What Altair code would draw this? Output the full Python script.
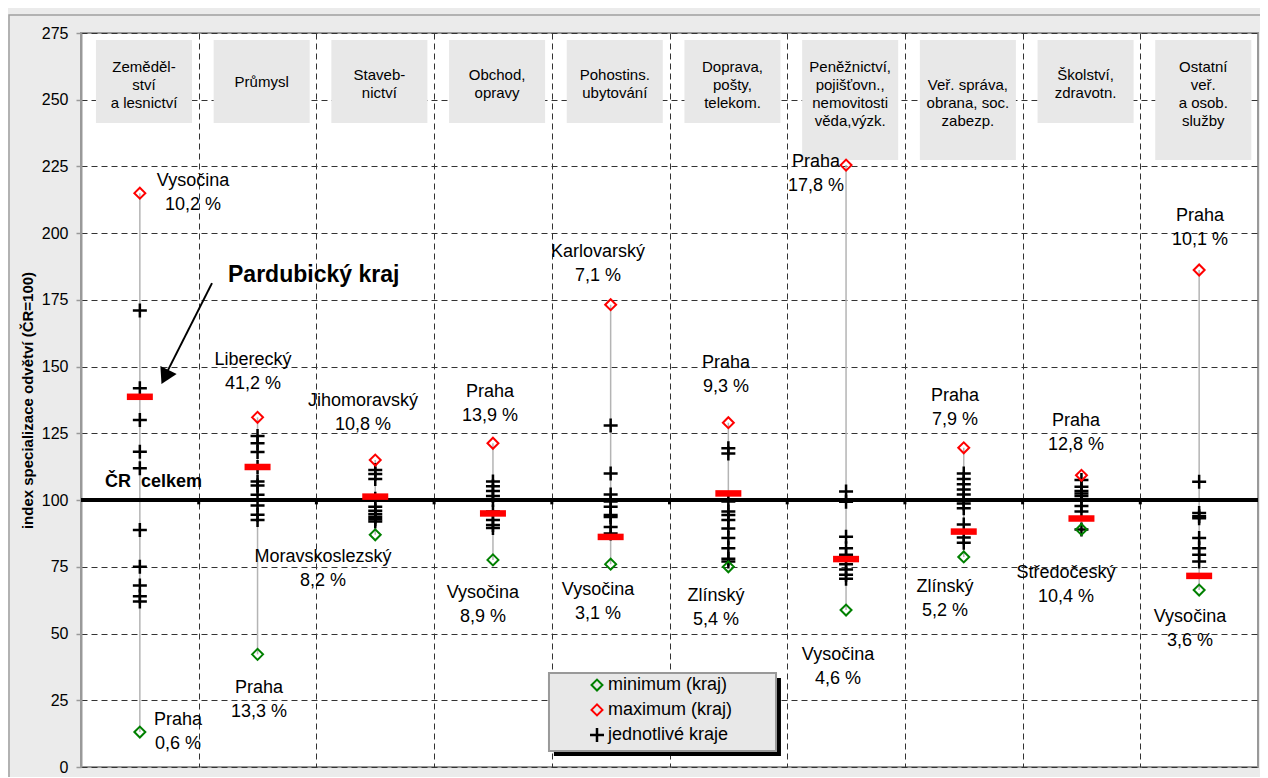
import altair as alt
import pandas as pd

FONT = "Liberation Sans"

# ---------------- data ----------------
header_lines = [
    ["Zeměděl-", "ství", "a lesnictví"],
    ["Průmysl"],
    ["Staveb-", "nictví"],
    ["Obchod,", "opravy"],
    ["Pohostins.", "ubytování"],
    ["Doprava,", "pošty,", "telekom."],
    ["Peněžnictví,", "pojišťovn.,", "nemovitosti", "věda,výzk."],
    ["Veř. správa,", "obrana, soc.", "zabezp."],
    ["Školství,", "zdravotn."],
    ["Ostatní", "veř.", "a osob.", "služby"],
]
max_vals = [215.0, 131.0, 115.0, 121.3, 173.2, 129.0, 225.5, 119.6, 109.3, 186.2]
min_vals = [13.1, 42.2, 87.0, 77.6, 76.0, 75.0, 58.8, 78.7, 89.0, 66.3]
pardubicky = [138.7, 112.4, 101.3, 95.0, 86.2, 102.5, 77.9, 88.2, 93.1, 71.6]
regions = [
    [171.0, 141.9, 130.0, 118.1, 111.9, 88.8, 75.0, 68.0, 64.0, 62.0],
    [124.0, 121.3, 118.0, 112.4, 107.0, 105.5, 102.0, 98.0, 94.5, 92.5],
    [111.3, 109.8, 107.9, 100.5, 97.5, 96.0, 94.8, 93.8, 92.8, 92.0],
    [107.0, 105.2, 103.4, 101.5, 100.0, 95.7, 92.5, 90.7, 89.5],
    [127.9, 110.0, 102.1, 99.5, 97.5, 94.4, 93.7, 89.9, 87.5],
    [119.4, 117.5, 99.5, 95.7, 94.4, 92.5, 89.4, 85.8, 82.0, 78.0, 77.0],
    [103.2, 99.4, 86.3, 82.0, 79.5, 76.0, 74.0, 72.0, 70.5],
    [110.0, 107.9, 105.9, 104.0, 102.1, 100.3, 98.7, 96.9, 90.9, 86.0, 84.0],
    [107.5, 105.0, 103.4, 102.5, 101.5, 100.0, 97.8, 95.7, 89.0],
    [106.9, 95.2, 93.9, 93.2, 85.8, 82.0, 79.5, 77.0],
]
max_region = ["Vysočina", "Liberecký", "Jihomoravský", "Praha", "Karlovarský",
              "Praha", "Praha", "Praha", "Praha", "Praha"]
max_share = ["10,2 %", "41,2 %", "10,8 %", "13,9 %", "7,1 %",
             "9,3 %", "17,8 %", "7,9 %", "12,8 %", "10,1 %"]
min_region = ["Praha", "Praha", "Moravskoslezský", "Vysočina", "Vysočina",
              "Zlínský", "Vysočina", "Zlínský", "Středočeský", "Vysočina"]
min_share = ["0,6 %", "13,3 %", "8,2 %", "8,9 %", "3,1 %",
             "5,4 %", "4,6 %", "5,2 %", "10,4 %", "3,6 %"]
y_ticks = [0, 25, 50, 75, 100, 125, 150, 175, 200, 225, 250, 275]
national_level = 100
legend_labels = ["minimum (kraj)", "maximum (kraj)", "jednotlivé kraje"]

# ---------------- layout (in data units) ----------------
n = len(header_lines)
box_left, box_right, box_top = -0.373, 0.443, 272.4
box_bottom = [241.3, 241.3, 241.3, 241.3, 241.3, 241.3, 227.4, 227.4, 241.3, 227.4]
header_first_y = [262.3, 256.6, 259.3, 259.3, 259.3, 262.3, 262.3, 255.5, 259.3, 262.3]
header_step = 6.74
max_label_x = [0.452, 0.961, 1.896, 2.975, 3.893, 4.980, 5.745, 6.926, 7.954, 9.007]
max_label_y = [219.6, 152.5, 137.1, 140.5, 193.0, 151.4, 226.7, 139.0, 129.6, 206.4]
min_label_x = [0.324, 1.012, 1.556, 2.915, 3.893, 4.895, 5.932, 6.841, 7.869, 8.922]
min_label_y = [17.6, 29.6, 78.7, 65.2, 66.3, 64.1, 42.0, 67.4, 72.7, 56.2]
label_step = 9.0

W, H = 1177, 734

# ---------------- tables ----------------
df_boxes = pd.DataFrame({
    "x": [i + box_left for i in range(n)],
    "x2": [i + box_right for i in range(n)],
    "y": [box_top] * n,
    "y2": box_bottom,
})
hdr_rows = []
for i, lines in enumerate(header_lines):
    for j, t in enumerate(lines):
        hdr_rows.append({"x": i + (box_left + box_right) / 2,
                         "y": header_first_y[i] - j * header_step, "t": t})
df_hdr = pd.DataFrame(hdr_rows)

df_range = pd.DataFrame({"x": list(range(n)), "y": min_vals, "y2": max_vals})
df_cross = pd.DataFrame([{"x": i, "y": v} for i, vals in enumerate(regions) for v in vals])
df_pard = pd.DataFrame({"x": list(range(n)), "y": pardubicky})
df_max = pd.DataFrame({"x": list(range(n)), "y": max_vals})
df_min = pd.DataFrame({"x": list(range(n)), "y": min_vals})

lab_rows = []
for i in range(n):
    lab_rows.append({"x": max_label_x[i], "y": max_label_y[i], "t": max_region[i]})
    lab_rows.append({"x": max_label_x[i], "y": max_label_y[i] - label_step, "t": max_share[i]})
    lab_rows.append({"x": min_label_x[i], "y": min_label_y[i], "t": min_region[i]})
    lab_rows.append({"x": min_label_x[i], "y": min_label_y[i] - label_step, "t": min_share[i]})
df_lab = pd.DataFrame(lab_rows)

x_axis = alt.Axis(values=[i + 0.5 for i in range(n - 1)], labels=False, ticks=False,
                  domain=False, grid=True, gridDash=[6, 4], gridColor="#333333",
                  gridWidth=1, title=None)
y_axis = alt.Axis(values=y_ticks, grid=True, gridDash=[6, 4], gridColor="#333333",
                  gridWidth=1, labelFontSize=16, labelColor="black", labelFont=FONT,
                  tickSize=5, tickColor="#999999", tickWidth=1.5,
                  domainColor="#999999", domainWidth=2, labelPadding=8,
                  title="index specializace odvětví (ČR=100)", titleFont=FONT,
                  titleFontSize=15, titleFontWeight="bold", titleColor="black",
                  titlePadding=6)
XS = alt.Scale(domain=[-0.5, n - 0.5], nice=False, zero=False)
YS = alt.Scale(domain=[y_ticks[0], y_ticks[-1]], nice=False, zero=False)
X = alt.X("x:Q", scale=XS, axis=x_axis)
Y = alt.Y("y:Q", scale=YS, axis=y_axis)

boxes = alt.Chart(df_boxes).mark_rect(fill="#e8e8e8").encode(x=X, x2="x2:Q", y=Y, y2="y2:Q")
hdr = alt.Chart(df_hdr).mark_text(font=FONT, fontSize=15, color="black", align="center",
                                  baseline="middle").encode(x=X, y=Y, text="t:N")
rng = alt.Chart(df_range).mark_rule(color="#b4b4b4", strokeWidth=1.5).encode(x=X, y=Y, y2="y2:Q")
cross = alt.Chart(df_cross).mark_point(shape="M-1,0H1M0,-1V1", filled=False, size=196,
                                       strokeWidth=2.5, color="black", opacity=1).encode(x=X, y=Y)
line100 = alt.Chart(pd.DataFrame({"y": [national_level]})).mark_rule(
    color="black", strokeWidth=4).encode(y=Y)
df_bt = pd.DataFrame({"x": [i + 0.5 for i in range(n - 1)],
                      "y": [national_level] * (n - 1), "y2": [national_level - 1.6] * (n - 1)})
bticks = alt.Chart(df_bt).mark_rule(color="black", strokeWidth=3).encode(x=X, y=Y, y2="y2:Q")
pard = alt.Chart(df_pard).mark_point(shape="M-1,-0.25H1V0.25H-1Z", filled=True, size=676,
                                     color="#ff0000", opacity=1).encode(x=X, y=Y)
dmax = alt.Chart(df_max).mark_point(shape="diamond", filled=False, size=120, strokeWidth=2,
                                    color="#ff0000", opacity=1).encode(x=X, y=Y)
dmin = alt.Chart(df_min).mark_point(shape="diamond", filled=False, size=120, strokeWidth=2,
                                    color="#008000", opacity=1).encode(x=X, y=Y)
labels = alt.Chart(df_lab).mark_text(font=FONT, fontSize=18, color="black", align="center",
                                     baseline="middle").encode(x=X, y=Y, text="t:N")

cr = alt.Chart(pd.DataFrame({"x": [-0.296], "y": [104.9], "t": ["ČR\u00a0\u00a0celkem"]})).mark_text(
    font=FONT, fontSize=18, fontWeight="bold", color="black", align="left",
    baseline="alphabetic").encode(x=X, y=Y, text="t:N")
pk = alt.Chart(pd.DataFrame({"x": [0.749], "y": [181.7], "t": ["Pardubický kraj"]})).mark_text(
    font=FONT, fontSize=23, fontWeight="bold", color="black", align="left",
    baseline="alphabetic").encode(x=X, y=Y, text="t:N")
arrow = alt.Chart(pd.DataFrame({"x": [0.613], "y": [181.3], "x2": [0.222], "y2": [147.2]})).mark_rule(
    color="black", strokeWidth=2).encode(x=X, y=Y, x2="x2:Q", y2="y2:Q")
head = alt.Chart(pd.DataFrame({"x": [0.2137], "y": [146.1]})).mark_point(
    shape="triangle-down", filled=True, size=330, angle=26.6, color="black", opacity=1).encode(x=X, y=Y)

# manual legend
lg_shadow = alt.Chart(pd.DataFrame({"x": [3.518], "x2": [5.447], "y": [33.3], "y2": [4.1]})).mark_rect(
    fill="black").encode(x=X, x2="x2:Q", y=Y, y2="y2:Q")
lg_box = alt.Chart(pd.DataFrame({"x": [3.476], "x2": [5.405], "y": [35.2], "y2": [6.0]})).mark_rect(
    fill="#e8e8e8", stroke="#999999", strokeWidth=2).encode(x=X, x2="x2:Q", y=Y, y2="y2:Q")
lg_rows_y = [30.7, 21.4, 12.0]
lg_min = alt.Chart(pd.DataFrame({"x": [3.884], "y": [lg_rows_y[0]]})).mark_point(
    shape="diamond", filled=False, size=120, strokeWidth=2, color="#008000", opacity=1).encode(x=X, y=Y)
lg_max = alt.Chart(pd.DataFrame({"x": [3.884], "y": [lg_rows_y[1]]})).mark_point(
    shape="diamond", filled=False, size=120, strokeWidth=2, color="#ff0000", opacity=1).encode(x=X, y=Y)
lg_cr = alt.Chart(pd.DataFrame({"x": [3.884], "y": [lg_rows_y[2]]})).mark_point(
    shape="M-1,0H1M0,-1V1", filled=False, size=196, strokeWidth=2.5, color="black", opacity=1).encode(x=X, y=Y)
lg_txt = alt.Chart(pd.DataFrame({"x": [3.977] * 3, "y": lg_rows_y, "t": legend_labels})).mark_text(
    font=FONT, fontSize=18, color="black", align="left", baseline="middle").encode(x=X, y=Y, text="t:N")

outer = alt.Chart(pd.DataFrame({"a": [0]})).mark_rect(
    fill="#ffffff", fillOpacity=0, stroke="#a0a0a0", strokeWidth=1.5).encode(
    x=alt.value(-72), x2=alt.value(W + 30), y=alt.value(-18), y2=alt.value(H + 30))

chart = alt.layer(
    boxes, hdr, rng, cross, line100, bticks, pard, dmax, dmin, labels, cr, pk, arrow, head,
    lg_shadow, lg_box, lg_min, lg_max, lg_cr, lg_txt, outer
).properties(
    width=W, height=H,
    autosize=alt.AutoSizeParams(type="none"),
    padding={"left": 73, "top": 25, "right": 2, "bottom": 10},
    background="#ebebeb",
).configure_view(fill="white", stroke="#999999", strokeWidth=2)

chart.save("out.html", embed_options={"renderer": "svg", "actions": False})
